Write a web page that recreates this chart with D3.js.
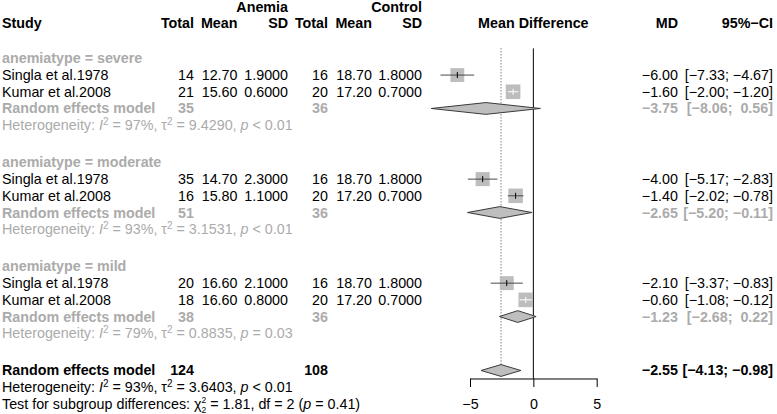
<!DOCTYPE html>
<html>
<head>
<meta charset="utf-8">
<script src="https://cdn.jsdelivr.net/npm/d3@7"></script>
<style>
  html, body { margin: 0; padding: 0; background: #fff; }
  svg text { font-family: "Liberation Sans", Arial, Helvetica, sans-serif; font-size: 14.3px; white-space: pre; }
</style>
</head>
<body>
<svg id="chart" width="777" height="414"></svg>
<script>
// ---------------- data ----------------
const groups = ["severe", "moderate", "mild"];
const studyNames = ["Singla et al.1978", "Kumar et al.2008"];
const nE    = [14, 21, 35, 16, 20, 18];
const meanE = [12.70, 15.60, 14.70, 15.80, 16.60, 16.60];
const sdE   = [1.9000, 0.6000, 2.3000, 1.1000, 2.1000, 0.8000];
const nC    = [16, 20, 16, 20, 16, 20];
const meanC = [18.70, 17.20, 18.70, 17.20, 18.70, 17.20];
const sdC   = [1.8000, 0.7000, 1.8000, 0.7000, 1.8000, 0.7000];
const md    = [-6.00, -1.60, -4.00, -1.40, -2.10, -0.60];
const lower = [-7.33, -2.00, -5.17, -2.02, -3.37, -1.08];
const upper = [-4.67, -1.20, -2.83, -0.78, -0.83, -0.12];
const weight = [15.7, 17.5, 16.2, 17.3, 15.9, 17.4]; // % (random effects)

const subTotE = [35, 51, 38];
const subTotC = [36, 36, 36];
const subMD   = [-3.75, -2.65, -1.23];
const subLo   = [-8.06, -5.20, -2.68];
const subHi   = [0.56, -0.11, 0.22];
const subI2   = ["97%", "93%", "79%"];
const subTau2 = ["9.4290", "3.1531", "0.8835"];
const subP    = ["< 0.01", "< 0.01", "= 0.03"];

const totE = 124, totC = 108;
const allMD = -2.55, allLo = -4.13, allHi = -0.98;
const allI2 = "93%", allTau2 = "3.6403", allP = "< 0.01";
const testChi = "1.81", testDf = 2, testP = "0.41";

const axisTicks = [-5, 0, 5];

// ---------------- layout ----------------
const svg = d3.select("#chart");
const GRAY = "#ababab";
const D = 16.7;
const x = d3.scaleLinear().domain([-5, 5]).range([470, 596.7]);

const col = { study: 2, totE: 194, meanE: 237.5, sdE: 288, totC: 328, meanC: 372, sdC: 422, md: 678, ci: 773 };

const minus = s => s.replace(/-/g, "\u2212");
const f2 = v => minus(v.toFixed(2));
const ciTxt = (lo, hi) => {
  const a = f2(lo), b = f2(hi);
  return "[" + (lo >= 0 ? "  " : "") + a + "; " + (hi >= 0 ? " " : "") + b + "]";
};

function txt(xp, yp, s, opt = {}) {
  return svg.append("text")
    .attr("x", xp).attr("y", yp).attr("dy", "0.35em")
    .attr("text-anchor", opt.anchor || "end")
    .attr("font-weight", opt.bold ? "bold" : "normal")
    .attr("fill", opt.color || "#000")
    .text(s);
}

function hetText(yp, I2, tau2, p, color) {
  const t = svg.append("text").attr("x", col.study).attr("y", yp).attr("dy", "0.35em")
    .attr("fill", color);
  t.append("tspan").text("Heterogeneity: ");
  t.append("tspan").attr("font-style", "italic").text("I");
  t.append("tspan").attr("font-size", "10px").attr("dy", -5).text("2");
  t.append("tspan").attr("dy", 5).text(" = " + I2 + ", \u03c4");
  t.append("tspan").attr("font-size", "10px").attr("dy", -5).text("2");
  t.append("tspan").attr("dy", 5).text(" = " + tau2 + ", ");
  t.append("tspan").attr("font-style", "italic").text("p");
  t.append("tspan").text(" " + p);
}

// header
let y = 23.3;
const yHead = y;
txt(col.sdE, yHead - D, "Anemia", { bold: true });
txt(col.sdC, yHead - D, "Control", { bold: true });
txt(col.study, yHead, "Study", { bold: true, anchor: "start" });
[["totE", "Total"], ["meanE", "Mean"], ["sdE", "SD"], ["totC", "Total"], ["meanC", "Mean"], ["sdC", "SD"], ["md", "MD"], ["ci", "95%\u2212CI"]]
  .forEach(([k, s]) => txt(col[k], yHead, s, { bold: true }));
txt((x(-5) + x(5)) / 2, yHead, "Mean Difference", { bold: true, anchor: "middle" });

y += 2.1 * D;
const plotTop = y - 10;

const sqScale = d3.scaleSqrt().domain([0, d3.max(weight)]).range([0, 14.6]);
const gPlot = svg.append("g");
const markLayer = svg.append("g");

function diamond(yc, est, lo, hi) {
  const h = 5.9;
  markLayer.append("path")
    .attr("d", `M${x(lo)},${yc} L${x(est)},${yc - h} L${x(hi)},${yc} L${x(est)},${yc + h} Z`)
    .attr("fill", "#bebebe").attr("stroke", "#3a3a3a").attr("stroke-width", 1);
}

groups.forEach((g, gi) => {
  txt(col.study, y, "anemiatype = " + g, { bold: true, anchor: "start", color: GRAY });
  for (let k = 0; k < 2; k++) {
    const i = gi * 2 + k;
    const yr = y + (k + 1) * D;
    txt(col.study, yr, studyNames[k], { anchor: "start" });
    txt(col.totE, yr, String(nE[i]));
    txt(col.meanE, yr, meanE[i].toFixed(2));
    txt(col.sdE, yr, sdE[i].toFixed(4));
    txt(col.totC, yr, String(nC[i]));
    txt(col.meanC, yr, meanC[i].toFixed(2));
    txt(col.sdC, yr, sdC[i].toFixed(4));
    txt(col.md, yr, f2(md[i]));
    txt(col.ci, yr, ciTxt(lower[i], upper[i]));
    // square + CI
    const s = sqScale(weight[i]);
    const cx = x(md[i]);
    markLayer.append("rect").attr("x", cx - s / 2).attr("y", yr - s / 2)
      .attr("width", s).attr("height", s).attr("fill", "#bdbdbd");
    const inside = x(lower[i]) > cx - s / 2 && x(upper[i]) < cx + s / 2;
    const lc = inside ? "#ffffff" : "#4a4a4a";
    markLayer.append("line").attr("x1", x(lower[i])).attr("x2", x(upper[i]))
      .attr("y1", yr).attr("y2", yr).attr("stroke", lc).attr("stroke-width", 1);
    markLayer.append("line").attr("x1", cx).attr("x2", cx)
      .attr("y1", yr - 3).attr("y2", yr + 3).attr("stroke", inside ? "#ffffff" : "#000").attr("stroke-width", 1);
  }
  const yre = y + 3 * D;
  txt(col.study, yre, "Random effects model", { bold: true, anchor: "start", color: GRAY });
  txt(col.totE, yre, String(subTotE[gi]), { bold: true, color: GRAY });
  txt(col.totC, yre, String(subTotC[gi]), { bold: true, color: GRAY });
  txt(col.md, yre, f2(subMD[gi]), { bold: true, color: GRAY });
  txt(col.ci, yre, ciTxt(subLo[gi], subHi[gi]), { bold: true, color: GRAY });
  diamond(yre, subMD[gi], subLo[gi], subHi[gi]);
  hetText(y + 4 * D, subI2[gi], subTau2[gi], subP[gi], GRAY);
  y += 6.23 * D;
});

// overall
const yAll = y;
txt(col.study, yAll, "Random effects model", { bold: true, anchor: "start" });
txt(col.totE, yAll, String(totE), { bold: true });
txt(col.totC, yAll, String(totC), { bold: true });
txt(col.md, yAll, f2(allMD), { bold: true });
txt(col.ci, yAll, ciTxt(allLo, allHi), { bold: true });
diamond(yAll, allMD, allLo, allHi);
hetText(yAll + D, allI2, allTau2, allP, "#000");

// test for subgroup differences
{
  const t = svg.append("text").attr("x", col.study).attr("y", yAll + 2 * D).attr("dy", "0.35em");
  t.append("tspan").text("Test for subgroup differences: \u03c7");
  t.append("tspan").attr("font-size", "8.5px").attr("dy", -6).text("2");
  t.append("tspan").attr("font-size", "8.5px").attr("dx", -4.73).attr("dy", 10).text(String(testDf));
  t.append("tspan").attr("dy", -4).text(" = " + testChi + ", df = " + testDf + " (");
  t.append("tspan").attr("font-style", "italic").text("p");
  t.append("tspan").text(" = " + testP + ")");
}

// reference lines
const axisY = yAll + 8;
gPlot.append("line").attr("x1", x(0)).attr("x2", x(0)).attr("y1", plotTop).attr("y2", axisY)
  .attr("stroke", "#000").attr("stroke-width", 1);
gPlot.append("line").attr("x1", x(allMD)).attr("x2", x(allMD)).attr("y1", plotTop).attr("y2", yAll - 5.9)
  .attr("stroke", "#444").attr("stroke-width", 1).attr("stroke-dasharray", "1,2");

// x axis
const axis = d3.axisBottom(x).tickValues(axisTicks).tickSize(8.5).tickSizeOuter(0)
  .tickFormat(d => minus(String(d)));
const ga = svg.append("g").attr("transform", `translate(0,${axisY})`).call(axis);
ga.select(".domain").attr("stroke", "#000");
ga.selectAll(".tick line").attr("stroke", "#000");
ga.selectAll(".tick text").attr("font-family", "Liberation Sans, Arial, sans-serif")
  .attr("font-size", "14.3px").attr("fill", "#000").attr("dy", "0").attr("y", 30.5);
</script>
</body>
</html>
